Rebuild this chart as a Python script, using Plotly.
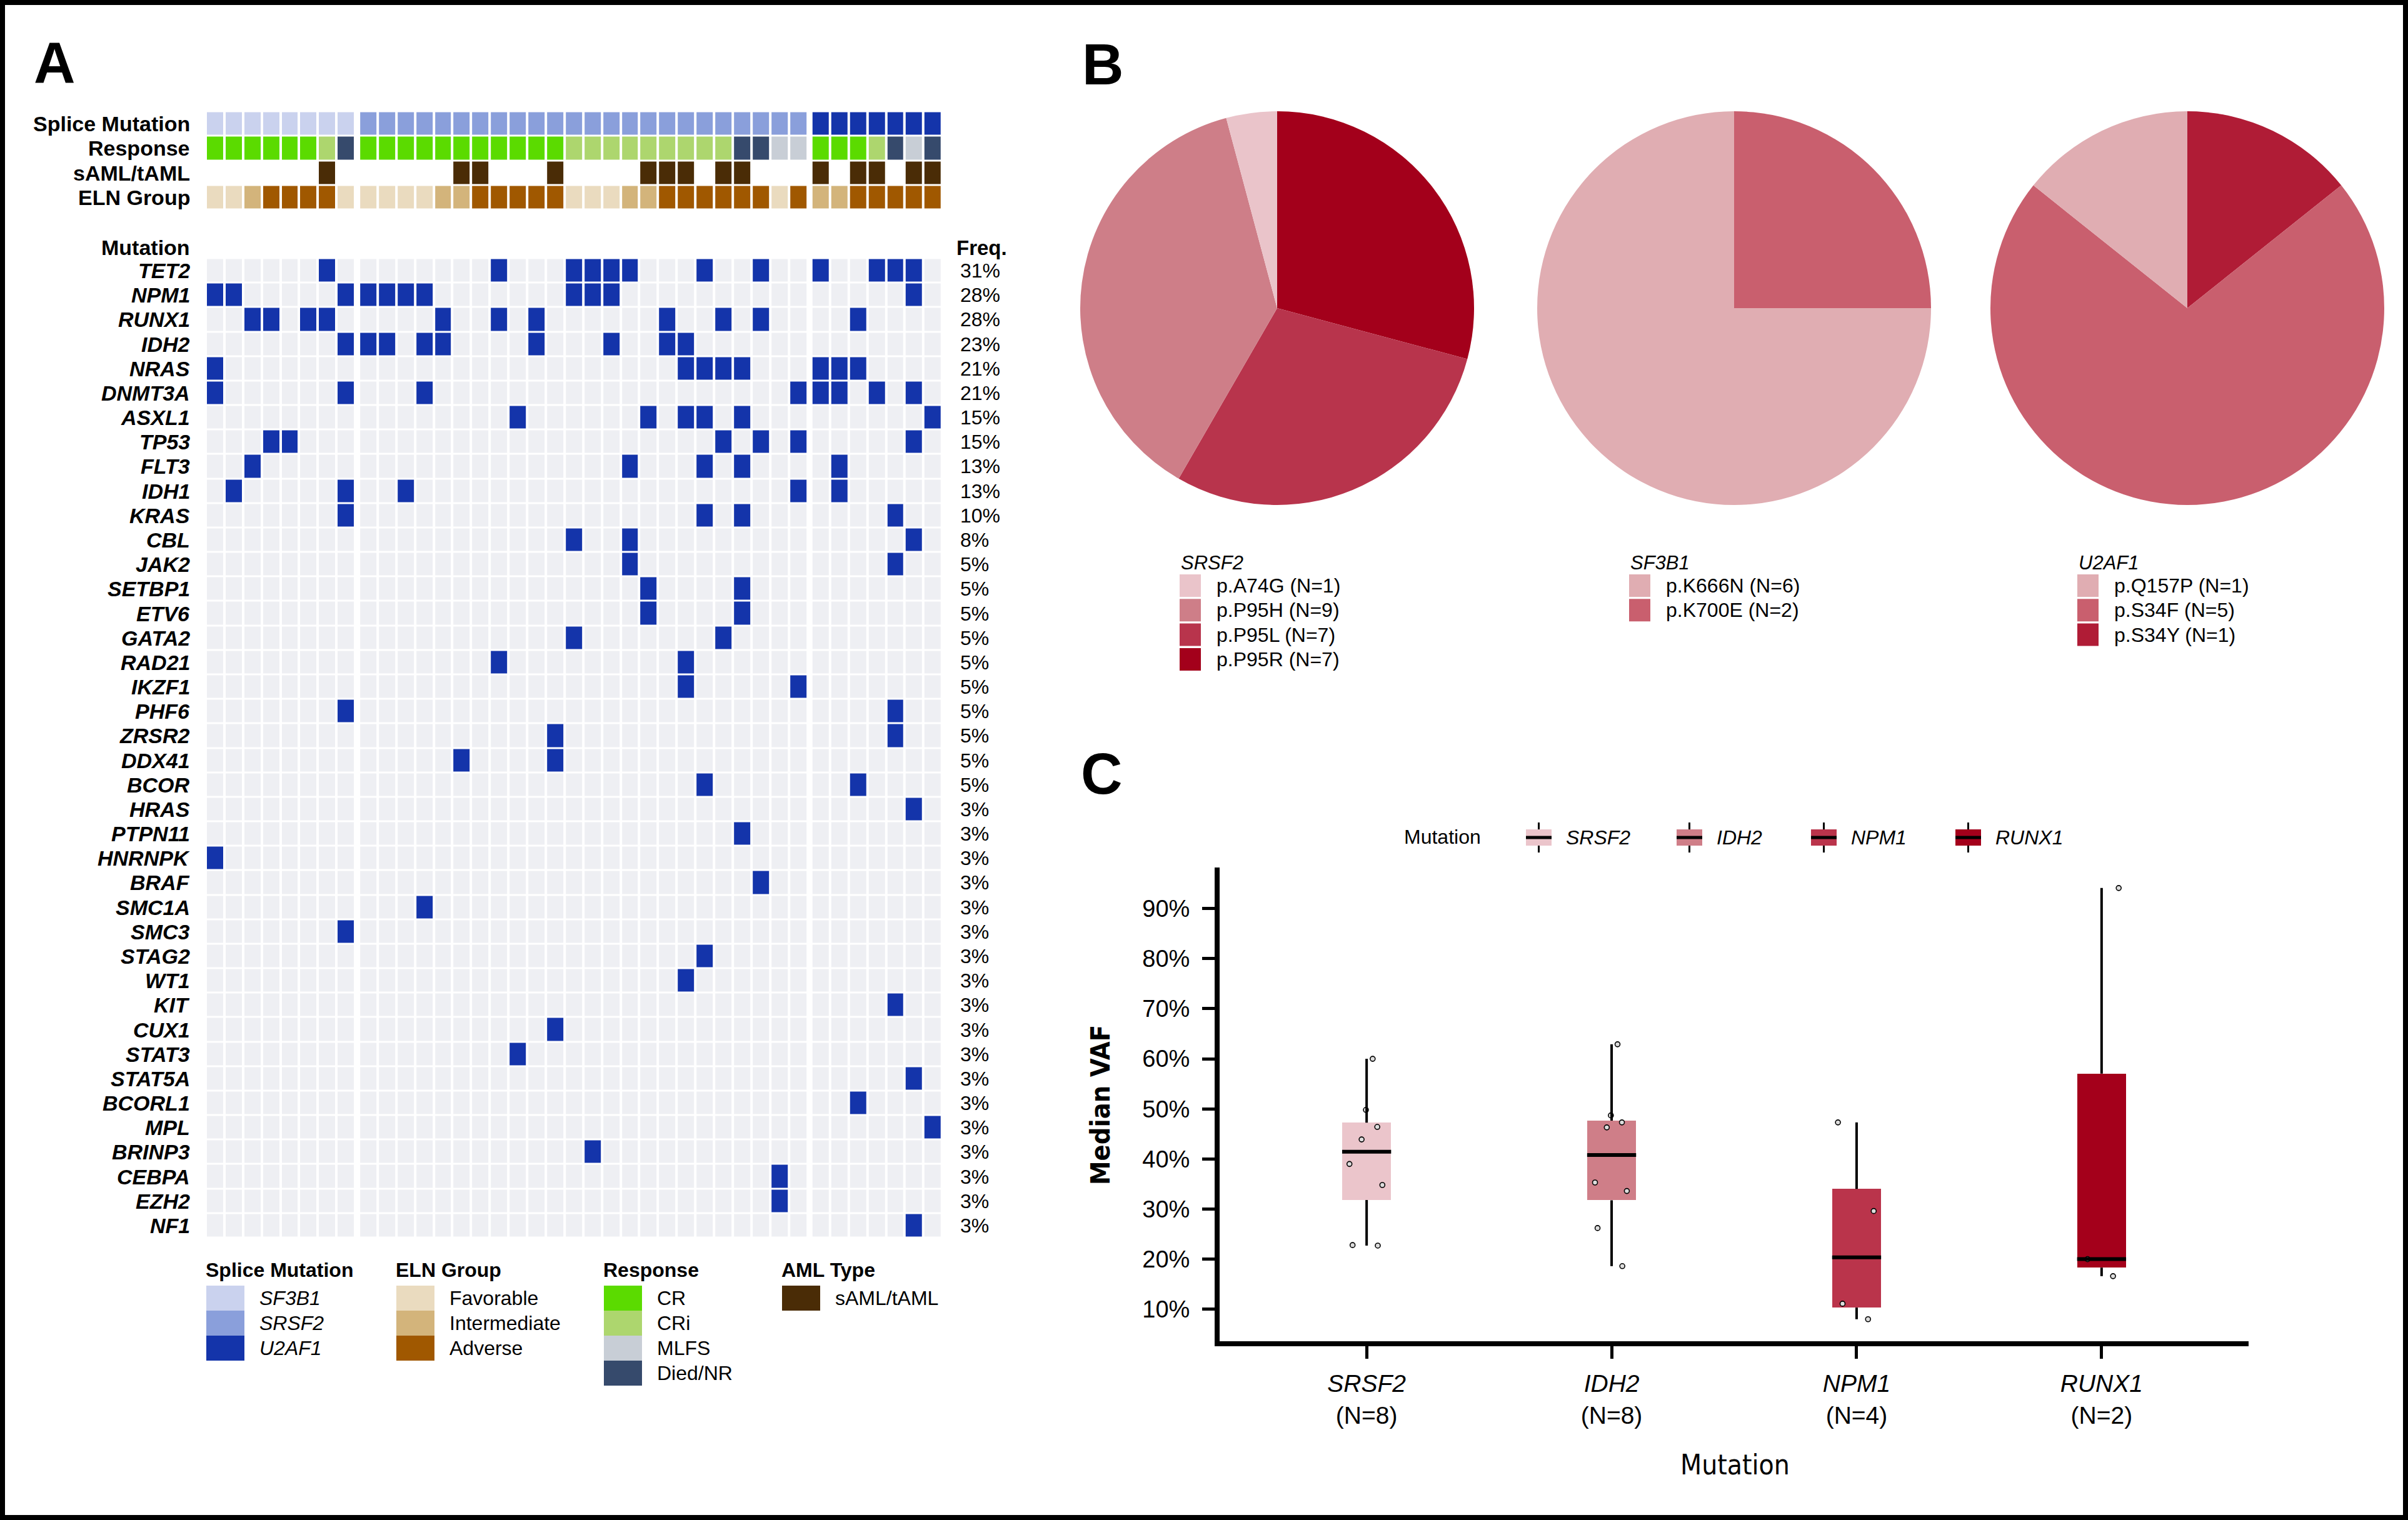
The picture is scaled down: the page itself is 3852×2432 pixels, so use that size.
import numpy as np
import plotly.graph_objects as go

W, H = 3852, 2432
def px(x): return x / W
def py(y): return 1 - y / H

FONT = "Liberation Sans, Arial, Helvetica, sans-serif"
NARROW = "Liberation Sans Narrow, Arial Narrow, DejaVu Sans Condensed, Liberation Sans, sans-serif"

# ---------------- Panel A data ----------------
splice_gene = ["SF3B1", "SF3B1", "SF3B1", "SF3B1", "SF3B1", "SF3B1", "SF3B1", "SF3B1",
               "SRSF2", "SRSF2", "SRSF2", "SRSF2", "SRSF2", "SRSF2", "SRSF2", "SRSF2",
               "SRSF2", "SRSF2", "SRSF2", "SRSF2", "SRSF2", "SRSF2", "SRSF2", "SRSF2",
               "SRSF2", "SRSF2", "SRSF2", "SRSF2", "SRSF2", "SRSF2", "SRSF2", "SRSF2",
               "U2AF1", "U2AF1", "U2AF1", "U2AF1", "U2AF1", "U2AF1", "U2AF1"]
response = ["CR", "CR", "CR", "CR", "CR", "CR", "CRi", "Died/NR",
            "CR", "CR", "CR", "CR", "CR", "CR", "CR", "CR", "CR", "CR", "CR",
            "CRi", "CRi", "CRi", "CRi", "CRi", "CRi", "CRi", "CRi", "CRi",
            "Died/NR", "Died/NR", "MLFS", "MLFS",
            "CR", "CR", "CR", "CRi", "Died/NR", "MLFS", "Died/NR"]
S = "sAML/tAML"
aml_type = ["", "", "", "", "", "", S, "",
            "", "", "", "", "", S, S, "",
            "", "", S, "", "", "", "", S,
            S, S, "", S, S, "", "", "",
            S, "", S, S, "", S, S]
F, I, A = "Favorable", "Intermediate", "Adverse"
eln_group = [F, F, I, A, A, A, A, F,
             F, F, F, F, I, I, A, A,
             A, A, A, F, F, F, I, I,
             A, A, A, A, A, A, F, A,
             I, I, A, A, A, A, A]

genes = ["TET2", "NPM1", "RUNX1", "IDH2", "NRAS", "DNMT3A", "ASXL1", "TP53", "FLT3", "IDH1",
         "KRAS", "CBL", "JAK2", "SETBP1", "ETV6", "GATA2", "RAD21", "IKZF1", "PHF6", "ZRSR2",
         "DDX41", "BCOR", "HRAS", "PTPN11", "HNRNPK", "BRAF", "SMC1A", "SMC3", "STAG2", "WT1",
         "KIT", "CUX1", "STAT3", "STAT5A", "BCORL1", "MPL", "BRINP3", "CEBPA", "EZH2", "NF1"]
mutated_samples = [
    [6, 15, 19, 20, 21, 22, 26, 29, 32, 35, 36, 37],
    [0, 1, 7, 8, 9, 10, 11, 19, 20, 21, 37],
    [2, 3, 5, 6, 12, 15, 17, 24, 27, 29, 34],
    [7, 8, 9, 11, 12, 17, 21, 24, 25],
    [0, 25, 26, 27, 28, 32, 33, 34],
    [0, 7, 11, 31, 32, 33, 35, 37],
    [16, 23, 25, 26, 28, 38],
    [3, 4, 27, 29, 31, 37],
    [2, 22, 26, 28, 33],
    [1, 7, 10, 31, 33],
    [7, 26, 28, 36],
    [19, 22, 37],
    [22, 36],
    [23, 28],
    [23, 28],
    [19, 27],
    [15, 25],
    [25, 31],
    [7, 36],
    [18, 36],
    [13, 18],
    [26, 34],
    [37],
    [28],
    [0],
    [29],
    [11],
    [7],
    [26],
    [25],
    [36],
    [18],
    [16],
    [37],
    [34],
    [38],
    [20],
    [30],
    [30],
    [37],
]

# ---------------- Panel B data ----------------
srsf2_variants = ["p.A74G", "p.P95H", "p.P95L", "p.P95R"]
srsf2_counts = [1, 9, 7, 7]
sf3b1_variants = ["p.K666N", "p.K700E"]
sf3b1_counts = [6, 2]
u2af1_variants = ["p.Q157P", "p.S34F", "p.S34Y"]
u2af1_counts = [1, 5, 1]

# ---------------- Panel C data ----------------
box_genes = ["SRSF2", "IDH2", "NPM1", "RUNX1"]
box_n = [8, 8, 4, 2]
vaf_srsf2 = [60.0, 49.8, 46.4, 43.9, 39.0, 34.8, 22.7, 22.8]
vaf_idh2 = [62.9, 48.7, 47.3, 46.3, 35.3, 33.6, 26.2, 18.6]
vaf_npm1 = [47.3, 29.6, 11.1, 8.0]
vaf_runx1 = [94.1, 20.0, 16.6]
vaf_values = [vaf_srsf2, vaf_idh2, vaf_npm1, vaf_runx1]
vaf_ticks = [10, 20, 30, 40, 50, 60, 70, 80, 90]

# ---------------- styles ----------------
splice_colors = {"SF3B1": "#CAD2EE", "SRSF2": "#8A9FDB", "U2AF1": "#1434AA"}
response_colors = {"CR": "#5BDB00", "CRi": "#ADD66E", "MLFS": "#C8CED6", "Died/NR": "#364A6C"}
aml_colors = {"sAML/tAML": "#4A2C06"}
eln_colors = {"Favorable": "#EADBBF", "Intermediate": "#D3B47B", "Adverse": "#A05800"}
GRID_BG = "#EEEFF3"
MUT_BLUE = "#1434AA"
srsf2_pie_colors = ["#EAC4CA", "#CE7E88", "#B8344C", "#A3001B"]
sf3b1_pie_colors = ["#E0ADB2", "#C95F6E"]
u2af1_pie_colors = ["#E0ADB2", "#C95F6E", "#B01C36"]
box_colors = ["#EBC5CB", "#CF7E88", "#BA344B", "#A4001B"]

fig = go.Figure()

# ================= Panel A: oncoprint =================
n_samples = len(splice_gene)
GAP = 0.2
groups = []
for i, s in enumerate(splice_gene):
    if i == 0 or s != splice_gene[i - 1]:
        groups.append([])
    groups[-1].append(i)
xpos = {}
for g, cols in enumerate(groups):
    for c in cols:
        xpos[c] = c + GAP * g

tracks = [("Splice Mutation", splice_gene, splice_colors),
          ("Response", response, response_colors),
          ("sAML/tAML", aml_type, aml_colors),
          ("ELN Group", eln_group, eln_colors)]
palette, code = [], {}
for name, vals, cmap in tracks:
    for cat, col in cmap.items():
        code[(name, cat)] = len(palette)
        palette.append(col)
npal = len(palette)
cs = []
for i, c in enumerate(palette):
    cs += [[i / npal, c], [(i + 1) / npal, c]]

for cols in groups:
    z = [[code.get((name, vals[c])) for c in cols] for name, vals, cmap in tracks]
    fig.add_trace(go.Heatmap(x=[xpos[c] for c in cols], y=list(range(len(tracks))), z=z,
                             colorscale=cs, zmin=-0.5, zmax=npal - 0.5, showscale=False,
                             xgap=4, ygap=3, xaxis="x", yaxis="y", hoverinfo="skip"))

mut = np.zeros((len(genes), n_samples))
for r, cols in enumerate(mutated_samples):
    mut[r, cols] = 1
for cols in groups:
    fig.add_trace(go.Heatmap(x=[xpos[c] for c in cols], y=list(range(len(genes))),
                             z=mut[:, cols].tolist(),
                             colorscale=[[0, GRID_BG], [0.5, GRID_BG], [0.5, MUT_BLUE], [1, MUT_BLUE]],
                             zmin=0, zmax=1, showscale=False, xgap=4, ygap=3,
                             xaxis="x", yaxis="y2", hoverinfo="skip"))

ann = []
for r, (name, vals, cmap) in enumerate(tracks):
    ann.append(dict(text=f"<b>{name}</b>", xref="paper", yref="y", x=px(306), y=r,
                    xanchor="right", yanchor="middle", showarrow=False,
                    font=dict(size=34, family=FONT, color="black")))
for r, g in enumerate(genes):
    ann.append(dict(text=f"<b><i>{g}</i></b>", xref="paper", yref="y2", x=px(306), y=r,
                    xanchor="right", yanchor="middle", showarrow=False,
                    font=dict(size=34, family=FONT, color="black")))
    pct = round(100 * len(mutated_samples[r]) / n_samples)
    ann.append(dict(text=f"{pct}%", xref="paper", yref="y2", x=px(1534), y=r,
                    xanchor="left", yanchor="middle", showarrow=False,
                    font=dict(size=32, family=FONT, color="black")))
ann.append(dict(text="<b>Mutation</b>", xref="paper", yref="paper", x=px(306), y=py(396),
                xanchor="right", yanchor="middle", showarrow=False,
                font=dict(size=34, family=FONT, color="black")))
ann.append(dict(text="<b>Freq.</b>", xref="paper", yref="paper", x=px(1528), y=py(397),
                xanchor="left", yanchor="middle", showarrow=False,
                font=dict(size=33, family=FONT, color="black")))

shapes = []
# bottom legends
leg_groups = [("Splice Mutation", splice_colors, True, 330),
              ("ELN Group", eln_colors, False, 634),
              ("Response", response_colors, False, 966),
              ("AML Type", aml_colors, False, 1251)]
SW_W, SW_H, SW_TOP = 61, 40, 2057
for title, cmap, ital, sx in leg_groups:
    ann.append(dict(text=f"<b>{title}</b>", xref="paper", yref="paper", x=px(sx - 3), y=py(2032),
                    xanchor="left", yanchor="middle", showarrow=False,
                    font=dict(size=32, family=FONT, color="black")))
    for k, (cat, col) in enumerate(cmap.items()):
        top = SW_TOP + k * SW_H
        shapes.append(dict(type="rect", xref="paper", yref="paper", x0=px(sx), x1=px(sx + SW_W),
                           y0=py(top + SW_H), y1=py(top), fillcolor=col, line=dict(width=0)))
        txt = f"<i>{cat}</i>" if ital else cat
        ann.append(dict(text=txt, xref="paper", yref="paper", x=px(sx + SW_W + 22), y=py(top + SW_H / 2),
                        xanchor="left", yanchor="middle", showarrow=False,
                        font=dict(size=32, family=FONT, color="black")))

# ================= Panel B: pies =================
R = 315
pies = [("SRSF2", srsf2_variants, srsf2_counts, srsf2_pie_colors, 2043, 1887),
        ("SF3B1", sf3b1_variants, sf3b1_counts, sf3b1_pie_colors, 2774, 2606),
        ("U2AF1", u2af1_variants, u2af1_counts, u2af1_pie_colors, 3499, 3323)]
CY = 493
for gname, variants, counts, cols, cx, lx in pies:
    # slices run clockwise from 12 o'clock in reverse legend order
    fig.add_trace(go.Pie(labels=variants[::-1], values=counts[::-1],
                         marker=dict(colors=cols[::-1], line=dict(width=0)),
                         sort=False, direction="clockwise", rotation=0, textinfo="none",
                         hoverinfo="label+value", showlegend=False,
                         domain=dict(x=[px(cx - R), px(cx + R)], y=[py(CY + R), py(CY - R)])))
    ann.append(dict(text=f"<i>{gname}</i>", xref="paper", yref="paper", x=px(lx), y=py(900),
                    xanchor="left", yanchor="middle", showarrow=False,
                    font=dict(size=31, family=FONT, color="black")))
    for k, (v, n, c) in enumerate(zip(variants, counts, cols)):
        top = 919 + k * 39.3
        shapes.append(dict(type="rect", xref="paper", yref="paper", x0=px(lx), x1=px(lx + 34),
                           y0=py(top + 36), y1=py(top), fillcolor=c, line=dict(width=0)))
        ann.append(dict(text=f"{v} (N={n})", xref="paper", yref="paper", x=px(lx + 57), y=py(top + 18),
                        xanchor="left", yanchor="middle", showarrow=False,
                        font=dict(size=32, family=FONT, color="black")))

# ================= Panel C: box plot =================
BOXW = 0.2
idx = list(range(len(box_genes)))
q1 = [float(np.percentile(v, 25)) for v in vaf_values]
med = [float(np.percentile(v, 50)) for v in vaf_values]
q3 = [float(np.percentile(v, 75)) for v in vaf_values]
lo, hi = [], []
for v, a, b in zip(vaf_values, q1, q3):
    iqr = b - a
    arr = np.array(v)
    lo.append(float(arr[arr >= a - 1.5 * iqr].min()))
    hi.append(float(arr[arr <= b + 1.5 * iqr].max()))

fig.add_trace(go.Bar(x=idx, y=[b - a for a, b in zip(q1, q3)], base=q1, width=BOXW,
                     marker=dict(color=box_colors, line=dict(width=0)),
                     xaxis="x3", yaxis="y3", showlegend=False, hoverinfo="skip"))
wx, wy = [], []
for i in idx:
    wx += [i, i, None, i, i, None]
    wy += [q3[i], hi[i], None, lo[i], q1[i], None]
fig.add_trace(go.Scatter(x=wx, y=wy, mode="lines", line=dict(color="black", width=4),
                         xaxis="x3", yaxis="y3", showlegend=False, hoverinfo="skip"))
mx, my = [], []
for i in idx:
    mx += [i - BOXW / 2, i + BOXW / 2, None]
    my += [med[i], med[i], None]
fig.add_trace(go.Scatter(x=mx, y=my, mode="lines", line=dict(color="black", width=6),
                         xaxis="x3", yaxis="y3", showlegend=False, hoverinfo="skip"))
for i, v in zip(idx, vaf_values):
    fig.add_trace(go.Box(x=[i] * len(v), y=v, width=BOXW, boxpoints="all", jitter=0.9, pointpos=0,
                         fillcolor="rgba(0,0,0,0)", line=dict(width=0, color="rgba(0,0,0,0)"),
                         marker=dict(symbol="circle", size=8, color="#dddddd",
                                     line=dict(color="black", width=1.6)),
                         xaxis="x3", yaxis="y3", showlegend=False, hoverinfo="y"))

ticktext = [f"<i>{g}</i><br>(N={n})" for g, n in zip(box_genes, box_n)]

# Panel C legend
ann.append(dict(text="Mutation", xref="paper", yref="paper", x=px(2244), y=py(1339),
                xanchor="left", yanchor="middle", showarrow=False,
                font=dict(size=32, family=FONT, color="black")))
key_left = [2441, 2682, 2897, 3128]
for g, c, kx in zip(box_genes, box_colors, key_left):
    shapes.append(dict(type="line", xref="paper", yref="paper", x0=px(kx + 20.5), x1=px(kx + 20.5),
                       y0=py(1316), y1=py(1364), line=dict(color="black", width=3)))
    shapes.append(dict(type="rect", xref="paper", yref="paper", x0=px(kx), x1=px(kx + 41),
                       y0=py(1353), y1=py(1327), fillcolor=c, line=dict(width=0)))
    shapes.append(dict(type="line", xref="paper", yref="paper", x0=px(kx), x1=px(kx + 41),
                       y0=py(1340), y1=py(1340), line=dict(color="black", width=5)))
    ann.append(dict(text=f"<i>{g}</i>", xref="paper", yref="paper", x=px(kx + 62), y=py(1340),
                    xanchor="left", yanchor="middle", showarrow=False,
                    font=dict(size=32, family=FONT, color="black")))

# axis titles
ann.append(dict(text="<b>Median VAF</b>", xref="paper", yref="paper", x=px(1760), y=py(1768),
                xanchor="center", yanchor="middle", textangle=-90, showarrow=False,
                font=dict(size=43, family=NARROW, color="black")))
ann.append(dict(text="Mutation", xref="paper", yref="paper", x=px(2775), y=py(2343),
                xanchor="center", yanchor="middle", showarrow=False,
                font=dict(size=44, family=NARROW, color="black")))

# panel letters
for letter, (lx, ly) in zip(["A", "B", "C"], [(87, 100), (1764, 103), (1762, 1238)]):
    ann.append(dict(text=f"<b>{letter}</b>", xref="paper", yref="paper", x=px(lx), y=py(ly),
                    xanchor="center", yanchor="middle", showarrow=False,
                    font=dict(size=92, family=FONT, color="black")))

# outer frame
shapes.append(dict(type="rect", xref="paper", yref="paper", x0=0, x1=1, y0=0, y1=1,
                   line=dict(color="black", width=16), fillcolor="rgba(0,0,0,0)"))

hidden = dict(visible=False, showgrid=False, zeroline=False)
fig.update_layout(
    width=W, height=H, margin=dict(l=0, r=0, t=0, b=0), autosize=False,
    template="none", paper_bgcolor="white", plot_bgcolor="white",
    font=dict(family=FONT, color="black"),
    showlegend=False, bargap=0,
    xaxis=dict(domain=[px(329), px(1507)], range=[-0.5, n_samples - 0.5 + GAP * (len(groups) - 1)],
               anchor="y", **hidden),
    yaxis=dict(domain=[py(335.5), py(178.5)], range=[len(tracks) - 0.5, -0.5], anchor="x", **hidden),
    yaxis2=dict(domain=[py(1980.5), py(413.5)], range=[len(genes) - 0.5, -0.5], anchor="x", **hidden),
    xaxis3=dict(domain=[px(1951), px(3597)], range=[-0.6, 3.6], anchor="y3",
                tickmode="array", tickvals=idx, ticktext=ticktext,
                showline=True, linewidth=8, linecolor="black",
                ticks="outside", ticklen=20, tickwidth=5, tickcolor="black", ticklabelstandoff=6,
                showgrid=False, zeroline=False, tickfont=dict(size=39, family=FONT, color="black")),
    yaxis3=dict(domain=[py(2146), py(1388)], range=[3.6, 98.2], anchor="x3",
                tickmode="array", tickvals=vaf_ticks, ticktext=[f"{t}%" for t in vaf_ticks],
                showline=True, linewidth=8, linecolor="black",
                ticks="outside", ticklen=20, tickwidth=5, tickcolor="black", ticklabelstandoff=12,
                showgrid=False, zeroline=False, tickfont=dict(size=38, family=FONT, color="black")),
    annotations=ann, shapes=shapes,
)

fig.write_html("out.html", config={"displayModeBar": False},
               post_script="document.body.style.margin='0';document.body.style.overflow='hidden';")
